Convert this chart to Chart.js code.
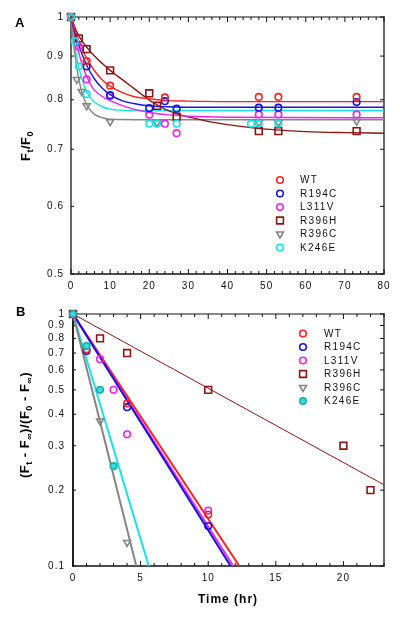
<!DOCTYPE html>
<html>
<head>
<meta charset="utf-8">
<script src="https://cdn.jsdelivr.net/npm/chart.js@4.4.1/dist/chart.umd.min.js"></script>
<style>
  html, body { margin: 0; padding: 0; background: #fff; }
  #wrap { position: relative; width: 400px; height: 617px; }
  #wrap canvas { position: absolute; left: 0; }
  #chartA { top: 0; }
  #chartB { top: 300px; }
</style>
</head>
<body>
<div id="wrap">
  <canvas id="chartA" width="400" height="300"></canvas>
  <canvas id="chartB" width="400" height="317"></canvas>
</div>
<script>
const variants = ['WT', 'R194C', 'L311V', 'R396H', 'R396C', 'K246E'];

// Panel A: Ft/F0 vs time (hr), measured points
const wtTimeA = [0, 4, 10, 24, 48, 53, 73];
const wtValA = [1, 0.888, 0.831, 0.805, 0.806, 0.806, 0.806];
const r194cTimeA = [0, 4, 10, 20, 24, 27, 48, 53, 73];
const r194cValA = [1, 0.875, 0.810, 0.782, 0.797, 0.781, 0.783, 0.783, 0.795];
const l311vTimeA = [0, 2, 4, 10, 20, 24, 27, 48, 53, 73];
const l311vValA = [1, 0.923, 0.845, 0.808, 0.768, 0.750, 0.731, 0.769, 0.769, 0.769];
const r396hTimeA = [0, 2, 4, 10, 20, 22, 27, 48, 53, 73];
const r396hValA = [1, 0.944, 0.917, 0.866, 0.814, 0.787, 0.764, 0.735, 0.735, 0.735];
const r396cTimeA = [0, 1.5, 2.75, 4, 10, 22, 48, 53, 73];
const r396cValA = [1, 0.845, 0.818, 0.787, 0.754, 0.752, 0.752, 0.752, 0.755];
const k246eTimeA = [0, 1, 2, 4, 20, 22, 27, 46, 48, 53];
const k246eValA = [1, 0.937, 0.875, 0.812, 0.750, 0.750, 0.750, 0.750, 0.750, 0.750];

// Panel A: fitted curves
const wtFitTimeA = [0, 1, 2, 3, 4, 6, 8, 10, 13, 16, 20, 25, 30, 40, 60, 80];
const wtFitA = [1, 0.966, 0.938, 0.915, 0.895, 0.865, 0.844, 0.830, 0.816, 0.807, 0.802, 0.798, 0.797, 0.796, 0.796, 0.796];
const r194cFitTimeA = [0, 1, 2, 3, 4, 6, 8, 10, 13, 16, 20, 25, 30, 40, 60, 80];
const r194cFitA = [1, 0.959, 0.927, 0.900, 0.878, 0.846, 0.825, 0.811, 0.798, 0.792, 0.787, 0.785, 0.784, 0.784, 0.784, 0.784];
const l311vFitTimeA = [0, 1, 2, 3, 4, 5, 6, 8, 10, 13, 16, 20, 25, 30, 40, 80];
const l311vFitA = [1, 0.950, 0.908, 0.876, 0.852, 0.834, 0.821, 0.807, 0.798, 0.788, 0.780, 0.773, 0.768, 0.765, 0.763, 0.762];
const r396hFitTimeA = [0, 1, 2, 4, 6, 8, 10, 12, 15, 18, 21, 24, 28, 32, 36, 40, 45, 50, 60, 70, 80];
const r396hFitA = [1, 0.972, 0.950, 0.922, 0.900, 0.882, 0.866, 0.852, 0.832, 0.812, 0.794, 0.780, 0.768, 0.760, 0.753, 0.748, 0.743, 0.739, 0.734, 0.732, 0.731];
const r396cFitTimeA = [0, 0.5, 1, 1.5, 2, 3, 4, 5, 6, 8, 10, 20, 40, 80];
const r396cFitA = [1, 0.946, 0.903, 0.871, 0.845, 0.810, 0.789, 0.777, 0.769, 0.762, 0.759, 0.758, 0.758, 0.758];
const k246eFitTimeA = [0, 0.5, 1, 1.5, 2, 3, 4, 5, 6, 8, 10, 15, 20, 40, 80];
const k246eFitA = [1, 0.958, 0.924, 0.896, 0.873, 0.840, 0.818, 0.804, 0.795, 0.785, 0.780, 0.777, 0.777, 0.777, 0.777];

// Panel B: (Ft - Finf)/(F0 - Finf) vs time (hr)
const wtTimeB = [0, 1, 4, 10];
const wtValB = [1, 0.724, 0.442, 0.160];
const r194cTimeB = [0, 1, 4, 10];
const r194cValB = [1, 0.713, 0.427, 0.144];
const l311vTimeB = [0, 2, 3, 4, 10];
const l311vValB = [1, 0.662, 0.50, 0.333, 0.166];
const r396hTimeB = [0, 2, 4, 10, 20, 22];
const r396hValB = [1, 0.8, 0.7, 0.5, 0.3, 0.2];
const r396cTimeB = [0, 2, 4];
const r396cValB = [1, 0.376, 0.124];
const k246eTimeB = [0, 1, 2, 3];
const k246eValB = [1, 0.746, 0.5, 0.249];

// Panel B: straight fit lines (end points)
const wtLineTimeB = [0, 12.3];
const wtLineB = [1, 0.1];
const r194cLineTimeB = [0, 11.65];
const r194cLineB = [1, 0.1];
const l311vLineTimeB = [0, 11.85];
const l311vLineB = [1, 0.1];
const r396hLineTimeB = [0, 23];
const r396hLineB = [1, 0.21];
const r396cLineTimeB = [0, 4.68];
const r396cLineB = [1, 0.1];
const k246eLineTimeB = [0, 5.6];
const k246eLineB = [1, 0.1];

// ticks
const xTicksA = [0, 10, 20, 30, 40, 50, 60, 70, 80];
const yTicksA = [0.5, 0.6, 0.7, 0.8, 0.9, 1];
const yLabelsA = ['0.5', '0.6', '0.7', '0.8', '0.9', '1'];
const xTicksB = [0, 5, 10, 15, 20];
const yTicksB = [0.1, 0.2, 0.3, 0.4, 0.5, 0.6, 0.7, 0.8, 0.9, 1];
const yLabelsB = ['0.1', '0.2', '0.3', '0.4', '0.5', '0.6', '0.7', '0.8', '0.9', '1'];

// styles
const colors = { WT: '#ff2020', R194C: '#1414e0', L311V: '#ee22ee', R396H: '#8b1414', R396C: '#858585', K246E: '#14e4e4' };
const markers = { WT: 'circle', R194C: 'circle', L311V: 'circle', R396H: 'rect', R396C: 'triangle', K246E: 'circle' };
const radius = { circle: 3.3, rect: 4.8, triangle: 4 };
const FONT = '"Liberation Sans", Arial, sans-serif';

function pointSet(name, t, v, filled) {
  const m = markers[name];
  return {
    label: name,
    data: t.map((x, i) => ({ x, y: v[i] })),
    showLine: false,
    pointStyle: m,
    pointRadius: radius[m],
    pointRotation: m === 'triangle' ? 180 : 0,
    pointBorderWidth: 1.6,
    borderColor: filled ? '#22aaaa' : colors[name],
    backgroundColor: filled ? '#33dede' : 'rgba(0,0,0,0)',
    clip: false,
    order: name === 'K246E' ? 0 : 1
  };
}

function lineSet(name, t, v, width) {
  return {
    label: name + ' fit',
    data: t.map((x, i) => ({ x, y: v[i] })),
    showLine: true,
    pointRadius: 0,
    borderWidth: width,
    borderColor: colors[name],
    backgroundColor: colors[name],
    cubicInterpolationMode: 'monotone',
    clip: false,
    order: 3
  };
}

function line(ctx, x1, y1, x2, y2, color, w) {
  ctx.beginPath();
  ctx.strokeStyle = color;
  ctx.lineWidth = w;
  ctx.moveTo(x1, y1);
  ctx.lineTo(x2, y2);
  ctx.stroke();
}

function drawMarker(ctx, name, x, y, filled) {
  const m = markers[name];
  const r = radius[m];
  ctx.save();
  ctx.lineWidth = 1.6;
  ctx.strokeStyle = filled ? '#22aaaa' : colors[name];
  ctx.fillStyle = filled ? '#33dede' : 'rgba(0,0,0,0)';
  ctx.beginPath();
  if (m === 'circle') {
    ctx.arc(x, y, r, 0, Math.PI * 2);
  } else if (m === 'rect') {
    const s = r * Math.SQRT1_2;
    ctx.rect(x - s, y - s, 2 * s, 2 * s);
  } else {
    ctx.moveTo(x, y + r);
    ctx.lineTo(x - r * 0.866, y - r / 2);
    ctx.lineTo(x + r * 0.866, y - r / 2);
    ctx.closePath();
  }
  ctx.fill();
  ctx.stroke();
  ctx.restore();
}

// rotated axis title with subscripts
function drawTitle(ctx, parts, cx, cy, size) {
  const main = `bold ${size}px ${FONT}`;
  const sub = `bold ${Math.round(size * 0.72)}px ${FONT}`;
  ctx.save();
  ctx.letterSpacing = '0.5px';
  ctx.translate(cx, cy);
  ctx.rotate(-Math.PI / 2);
  let total = 0;
  parts.forEach(([t, s]) => { ctx.font = s ? sub : main; total += ctx.measureText(t).width; });
  let x = -total / 2;
  ctx.fillStyle = '#000';
  ctx.textBaseline = 'middle';
  parts.forEach(([t, s]) => {
    ctx.font = s ? sub : main;
    ctx.fillText(t, x, s ? size * 0.32 : 0);
    x += ctx.measureText(t).width;
  });
  ctx.restore();
}

const framePlugin = {
  id: 'frame',
  beforeDraw(chart) {
    chart.ctx.letterSpacing = '1px';
  },
  beforeDatasetsDraw(chart, args, o) {
    const { ctx, chartArea: a } = chart;
    const xs = chart.scales.x, ys = chart.scales.y;
    ctx.save();
    line(ctx, a.left, a.top, a.right, a.top, '#111', 1.2);
    line(ctx, a.left, a.bottom, a.right, a.bottom, '#111', 1.5);
    line(ctx, a.left, a.top - 1, a.left, a.bottom + 1, o.leftColor, 2);
    line(ctx, a.right, a.top - 1, a.right, a.bottom + 1, '#6a6a6a', 2);
    for (let i = 0; ; i++) {
      const v = xs.min + i * o.xMinor;
      if (v > xs.max + 1e-9) break;
      const px = xs.getPixelForValue(v);
      const major = Math.abs(v / o.xMajor - Math.round(v / o.xMajor)) < 1e-6;
      const len = major ? 5 : 3;
      line(ctx, px, a.bottom, px, a.bottom - len, '#111', 1);
      line(ctx, px, a.top, px, a.top + len, '#111', 1);
    }
    o.yTicks.forEach(v => {
      const py = ys.getPixelForValue(v);
      line(ctx, a.left, py, a.left + 3, py, '#111', 1);
      line(ctx, a.right, py, a.right - 4, py, '#111', 1);
    });
    ctx.restore();
  },
  afterDraw(chart, args, o) {
    const { ctx } = chart;
    ctx.save();
    ctx.letterSpacing = '0px';
    // panel letter
    ctx.font = `bold 13px ${FONT}`;
    ctx.fillStyle = '#000';
    ctx.textBaseline = 'alphabetic';
    ctx.fillText(o.panel, o.panelX, o.panelY);
    // legend
    ctx.font = `10px ${FONT}`;
    ctx.letterSpacing = '1.3px';
    ctx.textBaseline = 'middle';
    variants.forEach((name, i) => {
      const y = o.legendY + i * 13.5;
      drawMarker(ctx, name, o.legendX, y, o.filled && name === 'K246E');
      ctx.fillStyle = '#111';
      ctx.fillText(name, o.legendTextX, y + 0.5);
    });
    ctx.restore();
    drawTitle(ctx, o.yTitle, o.yTitleX, o.yTitleY, o.yTitleSize);
    if (o.xTitle) {
      ctx.save();
      ctx.font = `bold 12px ${FONT}`;
      ctx.letterSpacing = '1px';
      ctx.fillStyle = '#000';
      ctx.textAlign = 'center';
      ctx.textBaseline = 'middle';
      ctx.fillText(o.xTitle, o.xTitleX, o.xTitleY);
      ctx.restore();
    }
  }
};

function labelFor(ticks, labels) {
  return v => {
    const i = ticks.findIndex(t => Math.abs(t - v) < 1e-9);
    return i >= 0 ? labels[i] : '';
  };
}

function scalesFor(xTicks, xMax, yTicks, yLabels, yMin, yWidth, xHeight, yPad, xPad) {
  return {
    x: {
      type: 'linear', min: 0, max: xMax,
      grid: { display: false, drawTicks: false },
      border: { display: false },
      afterBuildTicks: s => { s.ticks = xTicks.map(v => ({ value: v })); },
      afterFit: s => { s.height = xHeight; },
      ticks: { autoSkip: false, maxRotation: 0, padding: xPad, color: '#111', font: { family: FONT, size: 10 }, callback: v => String(v) }
    },
    y: {
      type: 'logarithmic', min: yMin, max: 1,
      grid: { display: false, drawTicks: false },
      border: { display: false },
      afterBuildTicks: s => { s.ticks = yTicks.map(v => ({ value: v })); },
      afterFit: s => { s.width = yWidth; },
      ticks: { autoSkip: false, padding: yPad, color: '#111', font: { family: FONT, size: 10 }, callback: labelFor(yTicks, yLabels) }
    }
  };
}

const namesLower = { WT: 'wt', R194C: 'r194c', L311V: 'l311v', R396H: 'r396h', R396C: 'r396c', K246E: 'k246e' };

const fitsA = [
  lineSet('WT', wtFitTimeA, wtFitA, 1.4),
  lineSet('R194C', r194cFitTimeA, r194cFitA, 1.4),
  lineSet('L311V', l311vFitTimeA, l311vFitA, 1.4),
  lineSet('R396H', r396hFitTimeA, r396hFitA, 1.4),
  lineSet('R396C', r396cFitTimeA, r396cFitA, 1.4),
  lineSet('K246E', k246eFitTimeA, k246eFitA, 1.4)
];
const pointsA = [
  pointSet('WT', wtTimeA, wtValA),
  pointSet('R194C', r194cTimeA, r194cValA),
  pointSet('L311V', l311vTimeA, l311vValA),
  pointSet('R396H', r396hTimeA, r396hValA),
  pointSet('R396C', r396cTimeA, r396cValA),
  pointSet('K246E', k246eTimeA, k246eValA)
];

new Chart(document.getElementById('chartA'), {
  type: 'scatter',
  data: { datasets: [...pointsA, ...fitsA] },
  plugins: [framePlugin],
  options: {
    responsive: false,
    animation: false,
    events: [],
    layout: { padding: { top: 17, right: 16, bottom: 0, left: 0 } },
    scales: scalesFor(xTicksA, 80, yTicksA, yLabelsA, 0.5, 71, 26, 7, 6),
    plugins: {
      legend: { display: false },
      tooltip: { enabled: false },
      frame: {
        panel: 'A', panelX: 15, panelY: 27,
        leftColor: '#666',
        xMinor: 2, xMajor: 10, yTicks: yTicksA,
        legendX: 280, legendTextX: 300, legendY: 180, filled: false,
        yTitle: [['F', false], ['t', true], ['/F', false], ['0', true]],
        yTitleX: 26, yTitleY: 146, yTitleSize: 13
      }
    }
  }
});

const linesB = [
  lineSet('R396H', r396hLineTimeB, r396hLineB, 1),
  lineSet('R396C', r396cLineTimeB, r396cLineB, 2),
  lineSet('K246E', k246eLineTimeB, k246eLineB, 2),
  lineSet('R194C', r194cLineTimeB, r194cLineB, 2),
  lineSet('L311V', l311vLineTimeB, l311vLineB, 2),
  lineSet('WT', wtLineTimeB, wtLineB, 2)
];
const pointsB = [
  pointSet('WT', wtTimeB, wtValB),
  pointSet('R194C', r194cTimeB, r194cValB),
  pointSet('L311V', l311vTimeB, l311vValB),
  pointSet('R396H', r396hTimeB, r396hValB),
  pointSet('R396C', r396cTimeB, r396cValB),
  pointSet('K246E', k246eTimeB, k246eValB, true)
];

new Chart(document.getElementById('chartB'), {
  type: 'scatter',
  data: { datasets: [...pointsB, ...linesB] },
  plugins: [framePlugin],
  options: {
    responsive: false,
    animation: false,
    events: [],
    layout: { padding: { top: 9, right: 16, bottom: 0, left: 0 } },
    scales: scalesFor(xTicksB, 23, yTicksB, yLabelsB, 0.1, 73, 51, 8, 6),
    plugins: {
      legend: { display: false },
      tooltip: { enabled: false },
      frame: {
        panel: 'B', panelX: 16, panelY: 16,
        leftColor: '#222',
        xMinor: 1, xMajor: 5, yTicks: yTicksB,
        legendX: 303, legendTextX: 324, legendY: 33.5, filled: true,
        yTitle: [['(F', false], ['t', true], [' - F', false], ['\u221E', true], [')/(F', false], ['0', true], [' - F', false], ['\u221E', true], [')', false]],
        yTitleX: 25, yTitleY: 125, yTitleSize: 13,
        xTitle: 'Time (hr)', xTitleX: 228, xTitleY: 300
      }
    }
  }
});
</script>
</body>
</html>
